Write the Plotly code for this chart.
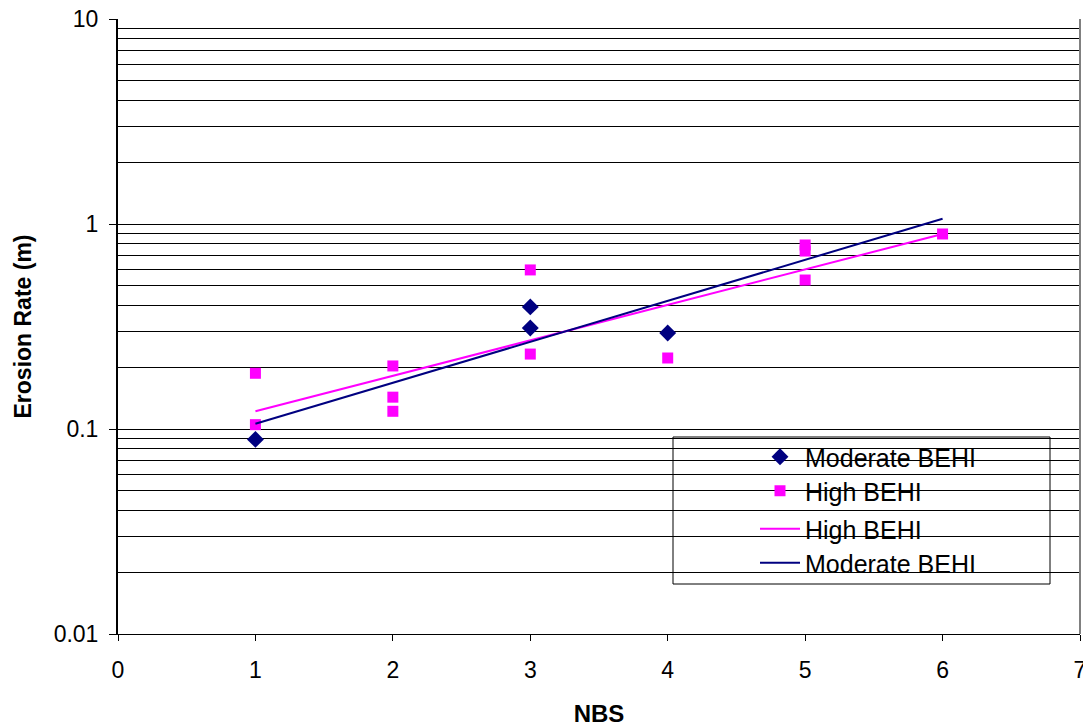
import plotly.graph_objects as go

# Data
mod_x = [1, 3, 3, 4]
mod_y = [0.089, 0.394, 0.311, 0.294]

high_x = [1, 1, 2, 2, 2, 3, 3, 4, 5, 5, 5, 6]
high_y = [0.187, 0.105, 0.203, 0.143, 0.122, 0.597, 0.232, 0.222, 0.79, 0.738, 0.533, 0.894]

# Exponential trend lines (straight on log axis), endpoints
trend_x = [1, 6]
trend_high = [0.122, 0.894]
trend_mod = [0.106, 1.06]

y_major = [0.01, 0.1, 1, 10]
y_major_text = ["0.01", "0.1", "1", "10"]
y_minor = [m * d for d in [0.01, 0.1, 1] for m in range(2, 10)]

FONT = "Arial, Liberation Sans, sans-serif"
FS = 23
NAVY = "#000080"
MAG = "#FF00FF"

fig = go.Figure()
fig.add_trace(go.Scatter(x=mod_x, y=mod_y, mode="markers", name="Moderate BEHI",
                         marker=dict(symbol="diamond", size=13, color=NAVY), legend="legend"))
fig.add_trace(go.Scatter(x=high_x, y=high_y, mode="markers", name="High BEHI",
                         marker=dict(symbol="square", size=11, color=MAG), legend="legend2"))
fig.add_trace(go.Scatter(x=trend_x, y=trend_high, mode="lines", name="High BEHI",
                         line=dict(color=MAG, width=2), legend="legend3"))
fig.add_trace(go.Scatter(x=trend_x, y=trend_mod, mode="lines", name="Moderate BEHI",
                         line=dict(color=NAVY, width=2), legend="legend4"))

pl, pr, pt, pb = 118, 1080, 19, 634
W, H = 1083, 727

def px2paper(x, y):
    return (x - pl) / (pr - pl), (pb - y) / (pb - pt)

leg_common = dict(bgcolor="rgba(0,0,0,0)", borderwidth=0, font=dict(family=FONT, size=25, color="black"),
                  xanchor="left", yanchor="middle", itemwidth=40)
row_y = [457, 491, 529, 563]
legends = {}
for i, ry in enumerate(row_y):
    lx, ly = px2paper(755, ry)
    key = "legend" if i == 0 else f"legend{i+1}"
    legends[key] = dict(leg_common, x=lx, y=ly)

bx0, by1 = px2paper(673, 437)
bx1, by0 = px2paper(1050, 584)

fig.update_layout(
    width=W, height=H,
    margin=dict(l=pl, r=W - pr, t=pt, b=H - pb),
    paper_bgcolor="white", plot_bgcolor="white",
    font=dict(family=FONT, size=FS, color="black"),
    showlegend=True,
    shapes=[
        dict(type="rect", xref="paper", yref="paper", x0=bx0, x1=bx1, y0=by0, y1=by1,
             fillcolor="white", line=dict(color="black", width=1), layer="between"),
        dict(type="line", xref="paper", yref="paper", x0=1, x1=1, y0=0, y1=1,
             line=dict(color="#808080", width=2), layer="above"),
    ],
    xaxis=dict(range=[0, 7], tickvals=[0, 1, 2, 3, 4, 5, 6, 7], showgrid=False, zeroline=False,
               showline=True, linecolor="black", linewidth=1, ticks="outside", ticklen=6,
               tickcolor="black", tickfont=dict(size=FS), ticklabelstandoff=9, automargin=False,
               ticklabeloverflow="allow",
               title=dict(text="<b>NBS</b>", font=dict(size=24), standoff=29)),
    yaxis=dict(type="log", range=[-2, 1], tickvals=y_major, ticktext=y_major_text,
               showgrid=True, gridcolor="black", gridwidth=1, zeroline=False,
               showline=True, linecolor="black", linewidth=2, ticks="outside", ticklen=7,
               tickcolor="black", tickfont=dict(size=FS), ticklabelstandoff=6, automargin=False,
               minor=dict(tickvals=y_minor, showgrid=True, gridcolor="black", gridwidth=1, ticks=""),
               title=dict(text="<b>Erosion Rate (m)</b>", font=dict(size=FS), standoff=16)),
    **legends,
)

fig.write_html("out.html", config={"displayModeBar": False},
               post_script="document.body.style.margin='0';document.body.style.overflow='hidden';")
